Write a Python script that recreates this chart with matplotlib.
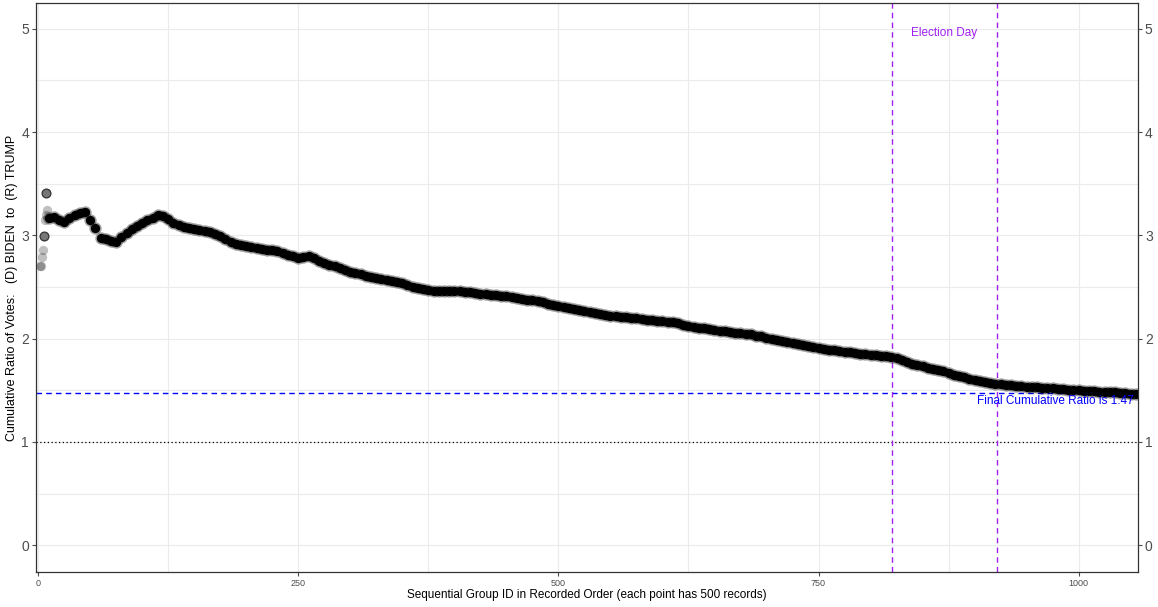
import matplotlib
matplotlib.use("Agg")
import matplotlib.pyplot as plt
import numpy as np

plt.rcParams['font.family'] = ['Liberation Sans', 'DejaVu Sans']

# first few groups (scattered, lighter points)
early_x = [2, 3, 4, 5, 7, 8, 9]
early_y = [2.70, 2.70, 2.79, 2.86, 3.15, 3.20, 3.25]
# two outlined early points
mark_x = [6, 8]
mark_y = [2.99, 3.41]

# cumulative ratio read every 5 groups from group 10 to 1055
group_start, group_step = 10, 5
ratio = [
    3.17, 3.18, 3.15, 3.13, 3.17, 3.20, 3.22, 3.23, 3.15, 3.07,
    2.97, 2.96, 2.95, 2.94, 2.98, 3.02, 3.06, 3.09, 3.12, 3.15,
    3.17, 3.20, 3.19, 3.16, 3.12, 3.10, 3.08, 3.07, 3.06, 3.05,
    3.04, 3.03, 3.01, 2.99, 2.96, 2.94, 2.92, 2.91, 2.90, 2.89,
    2.88, 2.87, 2.86, 2.86, 2.85, 2.83, 2.81, 2.80, 2.78, 2.79,
    2.80, 2.78, 2.75, 2.73, 2.71, 2.70, 2.68, 2.66, 2.65, 2.64,
    2.63, 2.61, 2.60, 2.59, 2.58, 2.57, 2.56, 2.55, 2.54, 2.52,
    2.50, 2.49, 2.48, 2.47, 2.46, 2.46, 2.46, 2.46, 2.46, 2.46,
    2.45, 2.45, 2.44, 2.43, 2.43, 2.42, 2.42, 2.41, 2.41, 2.40,
    2.39, 2.38, 2.37, 2.37, 2.36, 2.35, 2.34, 2.33, 2.32, 2.31,
    2.30, 2.29, 2.28, 2.27, 2.26, 2.25, 2.24, 2.23, 2.22, 2.22,
    2.21, 2.21, 2.20, 2.20, 2.19, 2.18, 2.18, 2.17, 2.17, 2.16,
    2.16, 2.15, 2.13, 2.12, 2.11, 2.10, 2.10, 2.09, 2.08, 2.07,
    2.07, 2.06, 2.05, 2.05, 2.04, 2.04, 2.03, 2.03, 2.01, 2.00,
    1.99, 1.98, 1.97, 1.96, 1.95, 1.94, 1.93, 1.92, 1.91, 1.90,
    1.89, 1.89, 1.88, 1.87, 1.87, 1.86, 1.85, 1.85, 1.84, 1.84,
    1.83, 1.83, 1.82, 1.81, 1.79, 1.77, 1.75, 1.74, 1.73, 1.72,
    1.71, 1.70, 1.69, 1.67, 1.65, 1.64, 1.63, 1.61, 1.60, 1.59,
    1.58, 1.57, 1.56, 1.56, 1.55, 1.55, 1.54, 1.54, 1.53, 1.53,
    1.53, 1.52, 1.52, 1.52, 1.51, 1.51, 1.50, 1.50, 1.50, 1.49,
    1.49, 1.49, 1.48, 1.48, 1.48, 1.48, 1.47, 1.47, 1.46, 1.46,
]
groups = group_start + group_step * np.arange(len(ratio))

final_ratio = 1.47
election_window = [821, 922]

fig = plt.figure(figsize=(11.58, 6.07), dpi=100)
ax = fig.add_axes([0.0311, 0.0577, 0.9516, 0.9373])

# grid (major + minor, ggplot style)
ax.set_xlim(-2, 1057)
ax.set_ylim(-0.26, 5.25)
ax.set_xticks([0, 250, 500, 750, 1000])
ax.set_xticks([125, 375, 625, 875], minor=True)
ax.set_yticks([0, 1, 2, 3, 4, 5])
ax.set_yticks([0.5, 1.5, 2.5, 3.5, 4.5], minor=True)
ax.grid(True, which='both', color='#EBEBEB', linewidth=0.8, zorder=0)
ax.set_axisbelow(True)

ax.axhline(1, color='black', linestyle=(0, (1, 2)), linewidth=0.9, zorder=1)
ax.axhline(final_ratio, color='#0000FF', linestyle=(0, (4, 3)), linewidth=1.0, zorder=1)
for xv in election_window:
    ax.axvline(xv, color='#A020F0', linestyle=(0, (4, 3)), linewidth=1.0, zorder=1)

ax.scatter(early_x, early_y, s=45, color='black', alpha=0.25, linewidths=0, zorder=2)
ax.scatter(mark_x, mark_y, s=40, facecolor='#777777', edgecolor='#333333', linewidths=0.9, zorder=3)
# main series: soft halo + solid core so the dense points read as one band
ax.scatter(groups, ratio, s=80, color='black', alpha=0.35, linewidths=0, zorder=2)
ax.scatter(groups, ratio, s=45, color='black', linewidths=0, zorder=2)

ax.text(871, 4.96, 'Election Day', color='#A020F0', fontsize=8.5, ha='center', va='center')
ax.text(1053, 1.395, 'Final Cumulative Ratio is %.2f' % final_ratio, color='#0000FF',
        fontsize=8.5, ha='right', va='center')

ax.set_xlabel('Sequential Group ID in Recorded Order (each point has 500 records)',
              fontsize=8.5, labelpad=1)
ax.set_ylabel('Cumulative Ratio of Votes:   (D) BIDEN  to  (R) TRUMP', fontsize=9)
ax.yaxis.set_label_coords(-0.0163, 0.5)

ax.tick_params(axis='x', which='major', labelsize=6.5, colors='#4D4D4D', length=3, pad=2)
ax.tick_params(axis='y', which='major', labelsize=10, colors='#4D4D4D', length=3, pad=2)
ax.tick_params(which='minor', length=0)
for sp in ax.spines.values():
    sp.set_color('#333333')
    sp.set_linewidth(0.9)

ax2 = ax.twinx()
ax2.set_ylim(ax.get_ylim())
ax2.set_yticks([0, 1, 2, 3, 4, 5])
ax2.tick_params(axis='y', labelsize=10, colors='#4D4D4D', length=3, pad=2)
for sp in ax2.spines.values():
    sp.set_visible(False)

fig.savefig('out.png', dpi=100)
